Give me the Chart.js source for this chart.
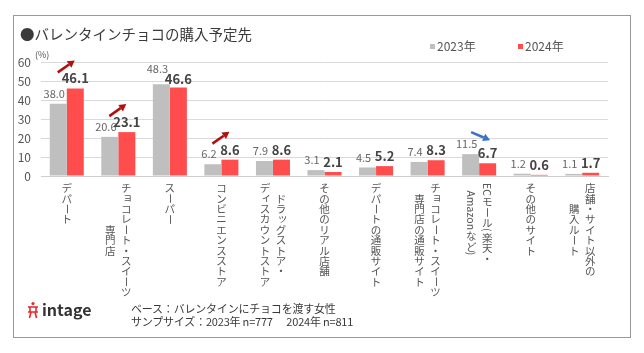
<!DOCTYPE html>
<html>
<head>
<meta charset="utf-8">
<script src="https://cdn.jsdelivr.net/npm/chart.js@4.4.1/dist/chart.umd.min.js"></script>
<style>
  body { margin: 0; background: #fff; font-family: "Noto Sans CJK JP", "Noto Sans", sans-serif; }
  #wrap { position: relative; width: 644px; height: 353px; overflow: hidden; }
  #frame { position: absolute; left: 13px; top: 15px; width: 616px; height: 321px; border: 1px solid #999; }
  #chart { position: absolute; left: 0; top: 0; }
  .txt { position: absolute; white-space: nowrap; color: #333; line-height: 1; }
  #title { left: 20px; top: 27px; font-size: 14.5px; color: #3a3a3a; }
  #unit { left: 35px; top: 50px; font-size: 9px; color: #555; }
  .leg { top: 40px; font-size: 12px; color: #555; }
  .leg i { display: inline-block; width: 5px; height: 5px; margin-right: 2px; vertical-align: 2px; }
  #note { left: 131px; top: 302px; font-size: 11px; line-height: 13px; letter-spacing: -0.2px; color: #3a3a3a; }
  #logo { left: 27px; top: 301px; font-size: 16px; font-weight: bold; color: #333; }
  #logo svg { vertical-align: -3px; margin-right: 3px; }
</style>
</head>
<body>
<div id="wrap">
  <div id="frame"></div>
  <canvas id="chart" width="644" height="353"></canvas>
  <div class="txt" id="title">●バレンタインチョコの購入予定先</div>
  <div class="txt" id="unit">(%)</div>
  <div class="txt leg" style="left:430px"><i style="background:#bfbfbf"></i>2023年</div>
  <div class="txt leg" style="left:518px"><i style="background:#ff4d4d"></i>2024年</div>
  <div class="txt" id="logo"><svg width="12" height="18" viewBox="0 0 12 18"><g stroke="#e8262b" stroke-width="1.6" fill="none"><circle cx="6" cy="2.5" r="1.6" fill="#e8262b" stroke="none"/><path d="M1 6 L11 6 M3 6 L3 11 M9 6 L9 11 M1 11 L11 11 M4 11 L2.5 17 M8 11 L9.5 17"/></g></svg>intage</div>
  <div class="txt" id="note">ベース：バレンタインにチョコを渡す女性<br>サンプサイズ：2023年 n=777&nbsp;&nbsp;&nbsp;&nbsp;&nbsp;&nbsp;2024年 n=811</div>
</div>
<script>
// categories: each entry is the vertical label columns (first column is drawn on the right)
const categories = [
    ['デパート'],
    ['チョコレート・スイーツ', '専門店'],
    ['スーパー'],
    ['コンビニエンスストア'],
    ['ドラッグストア・', 'ディスカウントストア'],
    ['その他のリアル店舗'],
    ['デパートの通販サイト'],
    ['チョコレート・スイーツ', '専門店の通販サイト'],
    ['ECモール(楽天・', 'Amazonなど)'],
    ['その他のサイト'],
    ['店舗・サイト以外の', '購入ルート']
];
const values2023 = [38.0, 20.6, 48.3, 6.2, 7.9, 3.1, 4.5, 7.4, 11.5, 1.2, 1.1];
const values2024 = [46.1, 23.1, 46.6, 8.6, 8.6, 2.1, 5.2, 8.3, 6.7, 0.6, 1.7];
const yTicks = [0, 10, 20, 30, 40, 50, 60];
// trend arrows: category index and direction
const arrows = [
    { index: 0, dir: 'up' },
    { index: 1, dir: 'up' },
    { index: 3, dir: 'up' },
    { index: 8, dir: 'down' }
];

const FONT = '"Noto Sans CJK JP", "Noto Sans", sans-serif';

// vertical (tategaki) x-axis labels
const verticalLabels = {
    id: 'verticalLabels',
    afterDraw(chart) {
        const ctx = chart.ctx;
        const xs = chart.scales.x;
        const top = chart.chartArea.bottom + 7;
        const adv = 10.4;
        const small = 'ァィゥェォッャュョヮ';
        const rot = 'ー';
        ctx.save();
        ctx.font = '10.5px ' + FONT;
        ctx.fillStyle = '#555';
        ctx.textBaseline = 'middle';

        // split a column into glyph runs (latin runs are rotated as a whole)
        function runs(str) {
            const out = [];
            let latin = '';
            for (const ch of str) {
                if (/[A-Za-z0-9()]/.test(ch)) { latin += ch; continue; }
                if (latin) { out.push({ t: latin, latin: true }); latin = ''; }
                out.push({ t: ch, latin: false });
            }
            if (latin) out.push({ t: latin, latin: true });
            out.forEach(r => { r.len = r.latin ? ctx.measureText(r.t).width + 1 : adv; });
            return out;
        }

        chart.data.labels.forEach((cols, i) => {
            const cx = xs.getPixelForValue(i);
            const colRuns = cols.map(runs);
            const lens = colRuns.map(rs => rs.reduce((s, r) => s + r.len, 0));
            const maxLen = Math.max(...lens);
            colRuns.forEach((rs, c) => {
                const x = cols.length === 1 ? cx : cx + (c === 0 ? 8 : -8);
                let y = top + (maxLen - lens[c]) / 2;
                rs.forEach(r => {
                    if (r.latin) {
                        ctx.save();
                        ctx.translate(x, y);
                        ctx.rotate(Math.PI / 2);
                        ctx.textAlign = 'left';
                        ctx.fillText(r.t, 0, 0);
                        ctx.restore();
                    } else if (rot.includes(r.t)) {
                        ctx.save();
                        ctx.translate(x, y + adv / 2);
                        ctx.rotate(Math.PI / 2);
                        ctx.textAlign = 'center';
                        ctx.fillText(r.t, 0, 0);
                        ctx.restore();
                    } else {
                        const sh = small.includes(r.t) ? 1.5 : 0;
                        ctx.textAlign = 'center';
                        ctx.fillText(r.t, x + sh, y + adv / 2 - sh);
                    }
                    y += r.len;
                });
            });
        });
        ctx.restore();
    }
};

// value labels above the bars
const valueLabels = {
    id: 'valueLabels',
    afterDatasetsDraw(chart) {
        const ctx = chart.ctx;
        const g = chart.getDatasetMeta(0).data;
        const r = chart.getDatasetMeta(1).data;
        ctx.save();
        ctx.textAlign = 'center';
        ctx.textBaseline = 'middle';
        g.forEach((bar, i) => {
            let gy = bar.y - 10;
            let ry = r[i].y - 10;
            // keep the two labels apart when the grey bar is a bit taller
            if (ry - gy > 2.5 && ry - gy < 8) { gy -= 5; ry += 2; }
            ctx.font = '11px ' + FONT;
            ctx.fillStyle = '#666';
            ctx.fillText(values2023[i].toFixed(1), bar.x - 4, gy);
            ctx.font = 'bold 13px ' + FONT;
            ctx.fillStyle = '#444';
            ctx.fillText(values2024[i].toFixed(1), r[i].x, ry);
        });
        ctx.restore();
    }
};

// trend arrows
const trendArrows = {
    id: 'trendArrows',
    afterDatasetsDraw(chart) {
        const ctx = chart.ctx;
        const xs = chart.scales.x, ys = chart.scales.y;
        arrows.forEach(a => {
            const cx = xs.getPixelForValue(a.index);
            const top = ys.getPixelForValue(Math.max(values2023[a.index], values2024[a.index]));
            let x1, y1, x2, y2, color;
            if (a.dir === 'up') {
                x1 = cx - 9; y1 = top - 16; x2 = cx + 8; y2 = top - 28; color = '#b01010';
            } else {
                x1 = cx - 8; y1 = top - 22; x2 = cx + 11; y2 = top - 14; color = '#3a72c8';
            }
            const ang = Math.atan2(y2 - y1, x2 - x1);
            const hl = 7, hw = 4;
            const bx = x2 - hl * Math.cos(ang), by = y2 - hl * Math.sin(ang);
            ctx.save();
            ctx.strokeStyle = color;
            ctx.fillStyle = color;
            ctx.lineWidth = 2.6;
            ctx.beginPath();
            ctx.moveTo(x1, y1);
            ctx.lineTo(bx, by);
            ctx.stroke();
            ctx.beginPath();
            ctx.moveTo(x2, y2);
            ctx.lineTo(bx + hw * Math.sin(ang), by - hw * Math.cos(ang));
            ctx.lineTo(bx - hw * Math.sin(ang), by + hw * Math.cos(ang));
            ctx.closePath();
            ctx.fill();
            ctx.restore();
        });
    }
};

new Chart(document.getElementById('chart'), {
    type: 'bar',
    data: {
        labels: categories,
        datasets: [
            { label: '2023年', data: values2023, backgroundColor: '#bfbfbf' },
            { label: '2024年', data: values2024, backgroundColor: '#ff4d4d' }
        ]
    },
    options: {
        responsive: false,
        animation: false,
        events: [],
        layout: { padding: { top: 62, left: 0, right: 36, bottom: 177 } },
        datasets: { bar: { categoryPercentage: 0.66, barPercentage: 1 } },
        plugins: { legend: { display: false }, tooltip: { enabled: false } },
        scales: {
            x: {
                grid: { display: false },
                border: { display: true, color: '#cfcfcf' },
                ticks: { display: false },
                afterFit(scale) { scale.height = 0; }
            },
            y: {
                min: 0,
                max: 60,
                afterBuildTicks(scale) { scale.ticks = yTicks.map(v => ({ value: v })); },
                grid: { color: '#d9d9d9', drawTicks: false },
                border: { display: false },
                ticks: { padding: 10, color: '#555', font: { size: 12, family: FONT } },
                afterFit(scale) { scale.width = 41; }
            }
        }
    },
    plugins: [verticalLabels, valueLabels, trendArrows]
});
</script>
</body>
</html>
